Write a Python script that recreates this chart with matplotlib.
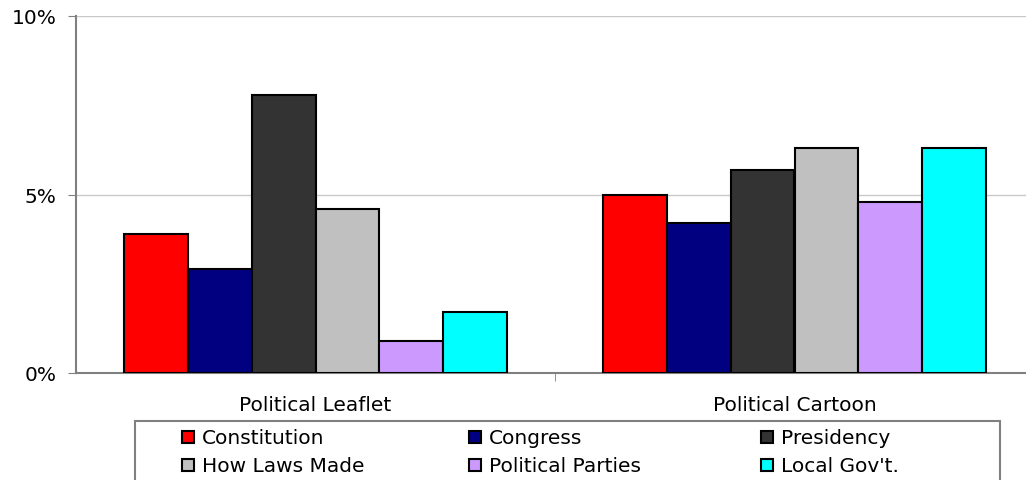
import numpy as np
import matplotlib.pyplot as plt
from matplotlib.patches import Rectangle

categories = ["Political Leaflet", "Political Cartoon"]
series = ["Constitution", "Congress", "Presidency", "How Laws Made", "Political Parties", "Local Gov't."]
colors = ["#FF0000", "#000080", "#333333", "#C0C0C0", "#CC99FF", "#00FFFF"]
values = [
    [3.9, 5.0],   # Constitution
    [2.9, 4.2],   # Congress
    [7.8, 5.7],   # Presidency
    [4.6, 6.3],   # How Laws Made
    [0.9, 4.8],   # Political Parties
    [1.7, 6.3],   # Local Gov't.
]

W, H = 1026, 481
fig = plt.figure(figsize=(W / 100, H / 100), dpi=100)
ax = fig.add_axes([76 / W, 107 / H, 958 / W, 357 / H])

x = np.arange(len(categories))
w = 0.1336
for i, (name, col) in enumerate(zip(series, colors)):
    ax.bar(x + (i - 2.5) * w, values[i], w, color=col, edgecolor="black", linewidth=1.5, zorder=3)

ax.set_xlim(-0.5, 1.5)
ax.set_ylim(0, 10)
ax.set_yticks([0, 5, 10])
ax.set_yticklabels(["0%", "5%", "10%"], fontsize=14.5)
ax.yaxis.grid(True, color="#C8C8C8", linewidth=1, zorder=0)
ax.tick_params(axis="y", length=6, color="#808080", pad=8)

ax.set_xticks(x)
ax.set_xticklabels(categories, fontsize=14.5)
ax.set_xticks([0.5], minor=True)
ax.tick_params(axis="x", which="major", length=0, pad=16)
ax.tick_params(axis="x", which="minor", length=6, color="#808080")

for s in ["top", "right"]:
    ax.spines[s].set_visible(False)
for s in ["left", "bottom"]:
    ax.spines[s].set_color("#808080")
    ax.spines[s].set_linewidth(1.5)

# legend box drawn by hand (bottom runs off the figure like the original)
fig.patches.append(Rectangle((135 / W, -10 / H), 865 / W, (481 - 422 + 10) / H,
                             transform=fig.transFigure, facecolor="white",
                             edgecolor="#808080", linewidth=1.5))
col_x = [182, 469, 761]
row_y = [438, 466]
for i, (name, col) in enumerate(zip(series, colors)):
    cx, cy = col_x[i % 3], row_y[i // 3]
    fig.patches.append(Rectangle((cx / W, 1 - (cy + 6) / H), 12 / W, 12 / H,
                                 transform=fig.transFigure, facecolor=col,
                                 edgecolor="black", linewidth=1.5))
    fig.text((cx + 20) / W, 1 - cy / H, name, fontsize=14.5, va="center", ha="left")

fig.savefig("out.png", dpi=100)
